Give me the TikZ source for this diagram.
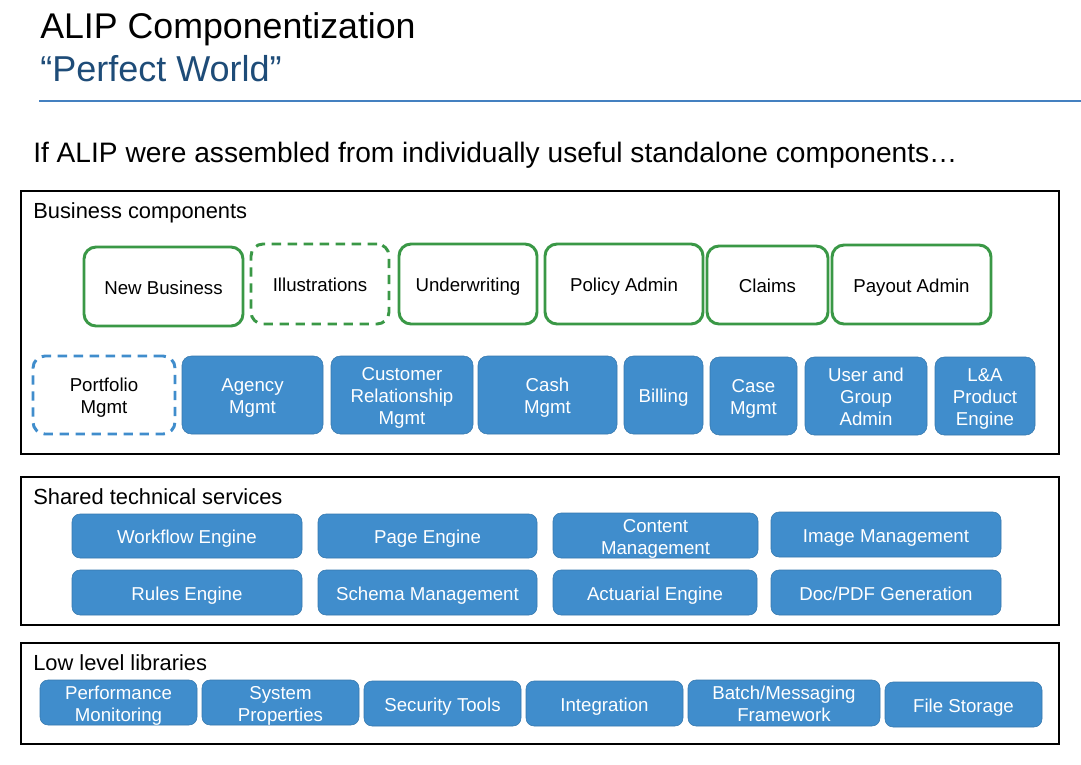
\documentclass[tikz,border=0pt]{standalone}
\usepackage{fontspec}
\setmainfont{Liberation Sans}
\definecolor{boxblue}{RGB}{64,141,204}
\definecolor{boxgreen}{RGB}{58,152,70}
\definecolor{titleblue}{RGB}{30,76,120}
\definecolor{ruleblue}{RGB}{68,128,192}
\newcommand\cbox[7]{%
  \node[#1, minimum width={(#5-#3)*0.75pt}, minimum height={(#6-#4)*0.75pt}]
    (#2) at ({(#3+#5)/2},{(#4+#6)/2}) {#7};}
\tikzset{
  base/.style={rectangle, inner sep=1pt, outer sep=0pt, align=center,
    text height=11.5pt, text depth=0pt,
    font=\fontsize{14}{16.5}\selectfont},
  two/.style={text height=28pt},
  three/.style={text height=44.5pt},
  greenbox/.style={base, draw=boxgreen, line width=2.2pt, rounded corners=9pt, fill=white, text=black},
  greendash/.style={greenbox, dash pattern=on 7pt off 5pt},
  bluedash/.style={base, draw=boxblue, line width=2.2pt, rounded corners=9pt, dash pattern=on 7pt off 5pt, text=black},
  bluebox/.style={base, fill=boxblue, draw=boxblue!85!black, line width=0.4pt, rounded corners=7pt, text=white},
  svcbox/.style={bluebox, rounded corners=6pt},
  group/.style={draw=black, line width=2.1pt},
  grouplabel/.style={anchor=base west, inner sep=0pt, font=\fontsize{16.4}{19}\selectfont}
}
\begin{document}
\begin{tikzpicture}[x=0.75pt,y=-0.75pt]
\useasboundingbox[fill=white] (0,0) rectangle (1081,764);
% titles
\node[anchor=base west, inner sep=0pt, font=\fontsize{26.8}{30}\selectfont] (title) at (40,38) {ALIP Componentization};
\node[anchor=base west, inner sep=0pt, text=titleblue, font=\fontsize{27}{30}\selectfont] (subtitle) at (40,81) {“Perfect World”};
\coordinate (rl) at (39,101);
\coordinate (rr) at (1081,101);
\draw[ruleblue, line width=1pt] (rl) -- (rr);
\node[anchor=base west, inner sep=0pt, font=\fontsize{21.1}{24}\selectfont] (intro) at (33,162) {If ALIP were assembled from individually useful standalone components…};
% group boxes
\draw[group] (21,191) rectangle (1059,454);
\node[grouplabel] (bc) at (33,218) {Business components};
\draw[group] (21,477) rectangle (1059,625);
\node[grouplabel] (sts) at (33,504) {Shared technical services};
\draw[group] (21,643) rectangle (1059,744);
\node[grouplabel] (lll) at (33,670) {Low level libraries};
% business row 1
\cbox{greenbox}{nb}{84}{247}{243}{326}{New Business}
\cbox{greendash}{ill}{251}{244}{389}{324}{Illustrations}
\cbox{greenbox}{uw}{399}{244}{537}{324}{Underwriting}
\cbox{greenbox}{pa}{545}{244}{703}{324}{Policy Admin}
\cbox{greenbox}{cl}{707}{246}{828}{324}{Claims}
\cbox{greenbox}{poa}{832}{245}{991}{324}{Payout Admin}
% business row 2
\cbox{bluedash,two}{pm}{33}{356}{175}{434}{Portfolio\\Mgmt}
\cbox{bluebox,two}{am}{182}{356}{323}{434}{Agency\\Mgmt}
\cbox{bluebox,three}{crm}{331}{356}{473}{434}{Customer\\Relationship\\Mgmt}
\cbox{bluebox,two}{cm}{478}{356}{617}{434}{Cash\\Mgmt}
\cbox{bluebox}{bil}{624}{356}{703}{434}{Billing}
\cbox{bluebox,two}{csm}{710}{357}{797}{435}{Case\\Mgmt}
\cbox{bluebox,three}{uga}{805}{357}{927}{435}{User and\\Group\\Admin}
\cbox{bluebox,three}{lap}{935}{357}{1035}{435}{L\&A\\Product\\Engine}
% shared services
\cbox{svcbox}{wf}{72}{514}{302}{558}{Workflow Engine}
\cbox{svcbox}{pe}{318}{514}{537}{558}{Page Engine}
\cbox{svcbox,two}{ctm}{553}{513}{758}{558}{Content\\Management}
\cbox{svcbox}{im}{771}{512}{1001}{557}{Image Management}
\cbox{svcbox}{re}{72}{570}{302}{615}{Rules Engine}
\cbox{svcbox}{sm}{318}{570}{537}{615}{Schema Management}
\cbox{svcbox}{ae}{553}{570}{757}{615}{Actuarial Engine}
\cbox{svcbox}{doc}{771}{570}{1001}{615}{Doc/PDF Generation}
% low level
\cbox{svcbox,two}{pmo}{40}{680}{197}{725}{Performance\\Monitoring}
\cbox{svcbox,two}{sp}{202}{680}{359}{725}{System\\Properties}
\cbox{svcbox}{st}{364}{681}{521}{726}{Security Tools}
\cbox{svcbox}{int}{526}{681}{683}{726}{Integration}
\cbox{svcbox,two}{bm}{688}{680}{880}{726}{Batch/Messaging\\Framework}
\cbox{svcbox}{fs}{885}{682}{1042}{727}{File Storage}
\end{tikzpicture}
\end{document}
